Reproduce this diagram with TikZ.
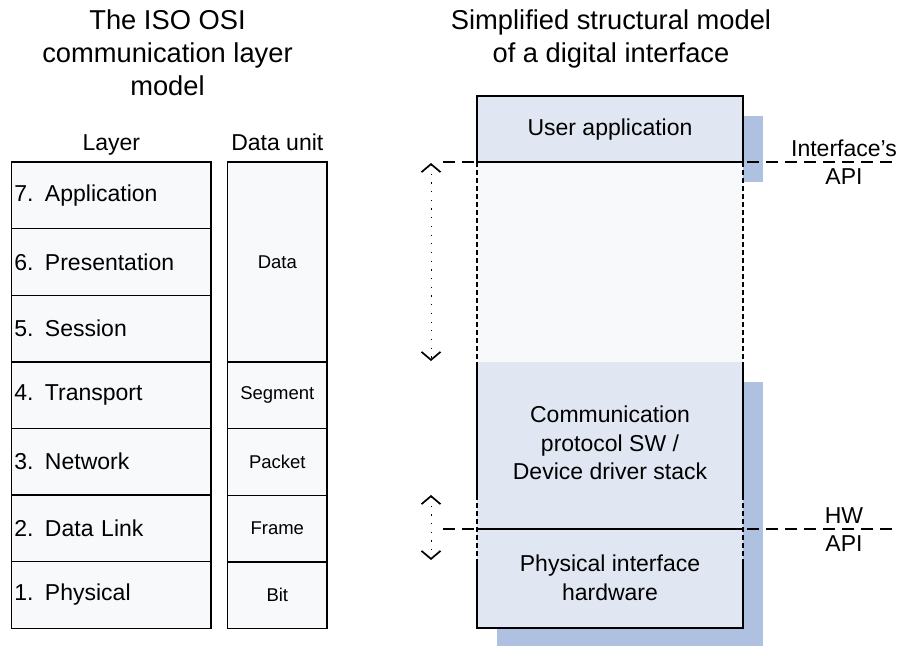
\documentclass[tikz,border=0pt]{standalone}
\usepackage{fontspec}
\setmainfont{Liberation Sans}
\usetikzlibrary{arrows.meta,positioning,calc}
\definecolor{paleback}{HTML}{F8F9FB}
\definecolor{boxblue}{HTML}{E1E7F2}
\definecolor{shadowblue}{HTML}{AEC1E1}
\tikzset{
  titletext/.style={font=\fontsize{27.3}{33}\selectfont, align=center, inner sep=0pt},
  bodytext/.style={font=\fontsize{23}{28.5}\selectfont, align=center, inner sep=0pt},
  apitext/.style={font=\fontsize{23}{28}\selectfont, align=center, inner sep=0pt},
  layerbox/.style={draw, line width=1.4pt, fill=paleback, outer sep=0pt, inner sep=0pt,
    minimum width=199.3pt, minimum height=66.6pt, text width=194pt, align=left,
    font=\fontsize{23}{26.5}\selectfont},
  unitbox/.style={draw, line width=1.4pt, fill=paleback, outer sep=0pt, inner sep=0pt,
    minimum width=99.3pt, minimum height=66.6pt, font=\fontsize{18.5}{22}\selectfont},
  edge/.style={line width=1.4pt},
  sideline/.style={line width=1.4pt, dash pattern=on 5pt off 3pt},
  apiline/.style={line width=1.3pt, dash pattern=on 12pt off 7pt},
  span/.style={line width=1pt, dash pattern=on 1.2pt off 7.5pt,
    {Straight Barb[length=8pt, width=19pt, line width=1.7pt]}-{Straight Barb[length=8pt, width=19pt, line width=1.7pt]}}
}
\begin{document}
\begin{tikzpicture}[x=1pt, y=-1pt]
\useasboundingbox (0,0) rectangle (899,645);

% OSI model
\node[titletext, anchor=north] (osititle) at (167.5,9.5) {The ISO OSI\\communication layer\\model};
\node[font=\fontsize{23}{26.5}\selectfont, anchor=base] (layerhead) at (111.3,150) {Layer};
\node[font=\fontsize{23}{26.5}\selectfont, anchor=base] (unithead) at (277.3,150) {Data unit};

\node[layerbox] (l7) at (111.3,195.3) {7. Application};
\node[layerbox, below=0pt of l7] (l6) {6. Presentation};
\node[layerbox, below=0pt of l6] (l5) {5. Session};
\node[layerbox, below=0pt of l5] (l4) {4. Transport};
\node[layerbox, below=0pt of l4] (l3) {3. Network};
\node[layerbox, below=0pt of l3] (l2) {2. Data Link};
\node[layerbox, below=0pt of l2] (l1) {1. Physical};

\node[unitbox, minimum height=200pt] (data) at (277.3,262) {Data};
\node[unitbox, below=0pt of data] (segment) {Segment};
\node[unitbox, below=0pt of segment] (packet) {Packet};
\node[unitbox, below=0pt of packet] (frame) {Frame};
\node[unitbox, below=0pt of frame] (bit) {Bit};

% interface model
\node[titletext, anchor=north] (iftitle) at (611,9.5) {Simplified structural model\\of a digital interface};

\fill[shadowblue] (497,116) rectangle (763,182);
\fill[shadowblue] (497,382) rectangle (763,648);
\fill[boxblue] (477,96) coordinate(ua) rectangle (743,162) coordinate(ub);
\fill[paleback] (477,162) coordinate(pa) rectangle (743,362) coordinate(pb);
\fill[boxblue] (477,362) coordinate(ca) rectangle (743,628) coordinate(cb);

\draw[apiline] (443,162) coordinate(apiL) -- (899,162) coordinate(apiR);
\draw[apiline] (443,529) coordinate(hwL) -- (899,529) coordinate(hwR);

\draw[edge] (pa) |- (ua) -| (743,162) -- cycle;
\draw[sideline] (pa) -- (ca) (743,162) -- (pb);
\draw[edge] (ca) -- ++(0,133) coordinate(hla) (pb) -- ++(0,133) coordinate(hlb);
\draw[sideline] (hla) -- ++(0,67) (hlb) -- ++(0,67);
\draw[edge] (477,562) |- (cb) -- (743,562);
\draw[edge] (477,529) -- (743,529);

\node[bodytext, anchor=base] (userapp) at (610,135) {User application};
\node[bodytext] (protocol) at (610,443) {Communication\\protocol SW /\\Device driver stack};
\node[bodytext] (physical) at (610,578) {Physical interface\\hardware};

\node[apitext] (ifapi) at (844,162) {Interface's\\API};
\node[apitext] (hwapi) at (844,530) {HW\\API};

\coordinate (apitop) at (431,163);
\coordinate (apibot) at (431,361);
\coordinate (hwtop) at (431,495);
\coordinate (hwbot) at (431,560);
\draw[span] (apitop) -- (apibot);
\draw[span] (hwtop) -- (hwbot);
\end{tikzpicture}
\end{document}
